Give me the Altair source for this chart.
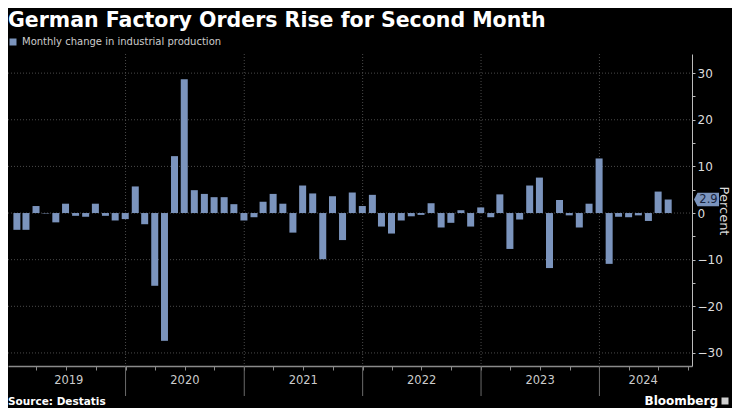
import altair as alt
import pandas as pd

# ---- data (monthly % change, Jan 2019 - Jul 2024) ----
years = [2019, 2020, 2021, 2022, 2023, 2024]
vals_2019 = [-3.6, -3.6, 1.5, -0.1, -2.0, 2.0, -0.6, -0.8, 2.0, -0.6, -1.6, -1.3]
vals_2020 = [5.7, -2.4, -15.6, -27.4, 12.2, 28.7, 4.9, 4.1, 3.4, 3.4, 1.9, -1.6]
vals_2021 = [-0.9, 2.4, 4.1, 2.0, -4.2, 5.9, 4.2, -9.9, 3.6, -5.8, 4.4, 1.5]
vals_2022 = [3.9, -2.9, -4.4, -1.6, -0.7, -0.4, 2.1, -3.1, -2.1, 0.6, -2.9, 1.2]
vals_2023 = [-0.9, 4.0, -7.7, -1.4, 5.9, 7.6, -11.8, 2.8, -0.5, -3.1, 2.0, 11.7]
vals_2024 = [-10.9, -0.8, -0.9, -0.5, -1.7, 4.6, 2.9]
monthly = dict(zip(years, [vals_2019, vals_2020, vals_2021, vals_2022, vals_2023, vals_2024]))

year_label_dates = ["2019-07-10", "2020-07-02", "2021-07-02", "2022-07-02", "2023-07-02", "2024-05-15"]
y_tick_values = [-30, -25, -20, -15, -10, -5, 0, 5, 10, 15, 20, 25, 30]
y_grid_values = [-30, -20, -10, 0, 10, 20, 30]

series_name = "Monthly change in industrial production"
title_text = "German Factory Orders Rise for Second Month"
source_text = "Source: Destatis"
brand_text = "Bloomberg"
y_title_text = "Percent"

BAR = "#7b94bd"
GRID = "#4a4a4a"
FONT = "DejaVu Sans"

rows = []
for y in years:
    for i, v in enumerate(monthly[y]):
        d = (pd.Timestamp(year=y, month=i + 1, day=1) + pd.offsets.MonthEnd(0)).strftime("%Y-%m-%d")
        rows.append({"date": d, "value": v, "series": series_name})
df = pd.DataFrame(rows)

year_starts = pd.DataFrame({"date": [f"{y}-01-01" for y in years[1:]]})
year_labels = pd.DataFrame({"date": year_label_dates, "label": [str(y) for y in years]})
grid_df = pd.DataFrame({"value": y_grid_values})
last_df = df.tail(1).copy()
title_df = pd.DataFrame({"t": [title_text]})
source_df = pd.DataFrame({"t": [source_text]})
brand_df = pd.DataFrame({"t": [brand_text]})
ytitle_df = pd.DataFrame({"t": [y_title_text]})

W, H = 684, 312

x_scale = alt.Scale(
    type="utc",
    domain=[alt.DateTime(year=2019, month=1, date=19, utc=True),
            alt.DateTime(year=2024, month=9, date=27, utc=True)],
)
y_scale = alt.Scale(domain=[-32.8, 34.1], nice=False, zero=False)

x_axis = alt.Axis(
    orient="bottom", labels=False, title=None, grid=False,
    tickCount={"interval": "month", "step": 3}, tickSize=4,
    tickColor="#8a8a8a", domainColor="#8a8a8a", domainWidth=1.5,
)
y_axis = alt.Axis(
    orient="right", values=y_tick_values,
    labelExpr="datum.value % 10 == 0 ? datum.label : ''",
    tickSize=3, tickColor="#bbbbbb", domainColor="#bbbbbb",
    labelColor="#dddddd", labelFontSize=12, labelPadding=2, labelFont=FONT,
    title=None, grid=False,
)

x_enc = alt.X("date:T", scale=x_scale, axis=x_axis)
y_enc = alt.Y("value:Q", scale=y_scale, axis=y_axis)

hgrid = alt.Chart(grid_df).mark_rule(color=GRID, strokeDash=[1, 2], strokeWidth=1).encode(
    y=y_enc, x=alt.value(0), x2=alt.value(W)
)
vgrid = alt.Chart(year_starts).mark_rule(color=GRID, strokeDash=[1, 2], strokeWidth=1).encode(
    x=x_enc, y=alt.value(0), y2=alt.value(H)
)
separators = alt.Chart(year_starts).mark_rule(color="#6a6a6a", strokeWidth=1).encode(
    x=x_enc, y=alt.value(H), y2=alt.value(H + 30)
)
bars = alt.Chart(df).mark_bar(size=7).encode(
    x=x_enc,
    y=y_enc,
    color=alt.Color(
        "series:N",
        scale=alt.Scale(range=[BAR]),
        legend=alt.Legend(
            orient="none", legendX=0, legendY=-17, title=None,
            symbolType="square", symbolSize=49, symbolStrokeWidth=0,
            labelColor="#cccccc", labelFontSize=10, labelFont=FONT,
            labelOffset=4, labelLimit=0, padding=0,
        ),
    ),
)
year_text = alt.Chart(year_labels).mark_text(
    color="#cccccc", fontSize=11.5, font=FONT, baseline="middle", align="center"
).encode(x=x_enc, y=alt.value(H + 15), text="label:N")

callout_shape = "M -1 0 L -0.72 -0.54 L 1 -0.54 L 1 0.54 L -0.72 0.54 Z"
callout = alt.Chart(last_df).mark_point(
    shape=callout_shape, filled=True, size=625, color=BAR, opacity=1
).encode(x=alt.value(W + 14.5), y=y_enc)
callout_text = alt.Chart(last_df).mark_text(
    color="#16233d", fontSize=11.5, font=FONT, align="center", baseline="middle"
).encode(x=alt.value(W + 16.5), y=y_enc, text=alt.Text("value:Q", format=".1f"))

y_title = alt.Chart(ytitle_df).mark_text(
    color="#dddddd", fontSize=13, font=FONT, angle=90, align="center", baseline="alphabetic"
).encode(x=alt.value(W + 27.5), y=alt.value(157), text="t:N")

title = alt.Chart(title_df).mark_text(
    color="#ffffff", fontSize=20.5, fontWeight="bold", font=FONT, align="left", baseline="alphabetic"
).encode(x=alt.value(0), y=alt.value(-27), text="t:N")
source = alt.Chart(source_df).mark_text(
    color="#ffffff", fontSize=10.5, fontWeight="bold", font=FONT, align="left", baseline="alphabetic"
).encode(x=alt.value(0), y=alt.value(351), text="t:N")
brand = alt.Chart(brand_df).mark_text(
    color="#ffffff", fontSize=12, fontWeight="bold", font=FONT, align="right", baseline="alphabetic"
).encode(x=alt.value(W + 26), y=alt.value(351), text="t:N")
brand_icon = alt.Chart(brand_df).mark_point(
    shape="square", filled=True, size=49, color="#cfcfcf", opacity=1
).encode(x=alt.value(W + 33), y=alt.value(347))

chart = alt.layer(
    hgrid, vgrid, separators, bars, year_text, callout, callout_text, y_title,
    title, source, brand, brand_icon,
).properties(
    width=W, height=H,
    autosize=alt.AutoSizeParams(type="none"),
    padding={"left": 0, "top": 46, "right": 40, "bottom": 42},
).configure(
    background="#000000", font=FONT
).configure_view(stroke=None)

chart.save("out.html", embed_options={"renderer": "svg", "actions": False})
